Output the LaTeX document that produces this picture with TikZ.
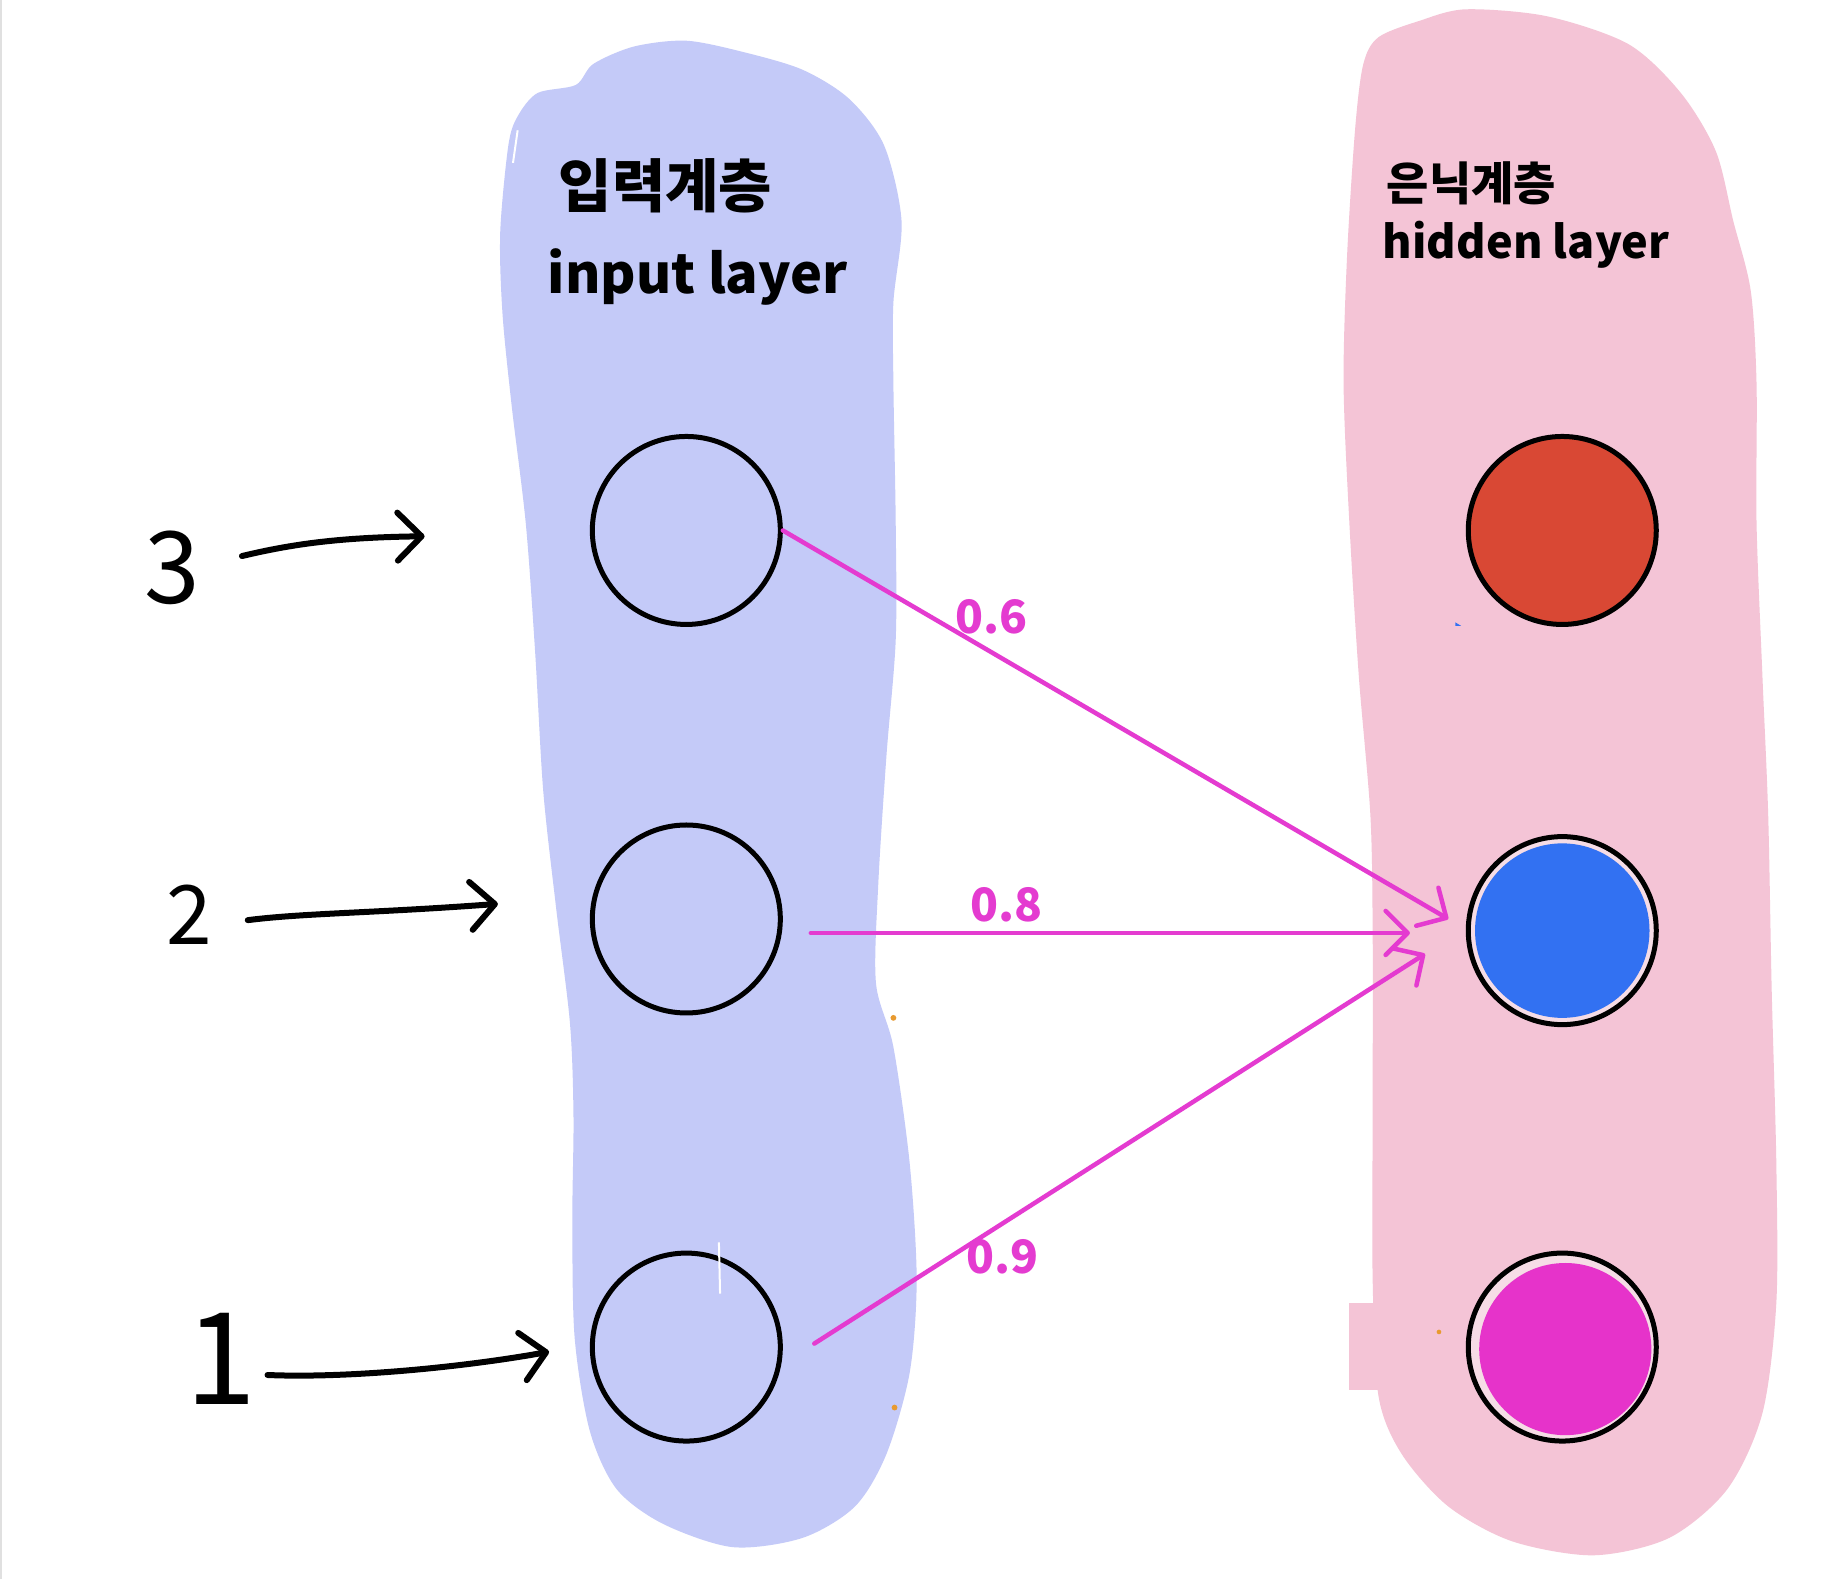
\documentclass[tikz,border=0pt]{standalone}
\usepackage{fontspec}
\setmainfont{Noto Sans CJK KR}
\usetikzlibrary{arrows.meta}
\definecolor{inblob}{HTML}{C4CAF8}
\definecolor{hidblob}{HTML}{F4C4D6}
\definecolor{wmag}{HTML}{E43BD0}
\definecolor{nred}{HTML}{D94834}
\definecolor{nblue}{HTML}{3271F2}
\definecolor{nmag}{HTML}{E633CA}
\definecolor{ringc}{HTML}{F6DCE6}
\definecolor{dotor}{HTML}{E89A30}
\tikzset{
  neuron/.style={circle, draw=black, line width=5pt, minimum size=188pt, inner sep=0pt},
  weightarrow/.style={draw=wmag, line width=4.5pt, line cap=round, -{Straight Barb[length=22pt,width=44pt,line width=4.5pt,round]}},
  inarrow/.style={draw=black, line width=6pt, line cap=round, -{Straight Barb[length=24pt,width=48pt,line width=6pt,round]}},
  wlabel/.style={text=wmag, font=\bfseries\fontsize{46}{48}\selectfont, inner sep=0pt},
  numlabel/.style={text=black, inner sep=0pt},
  titlelabel/.style={text=black, inner sep=0pt}
}
\begin{document}
\begin{tikzpicture}[x=1.16327pt,y=-1.16327pt]
\useasboundingbox (0,0) rectangle (1568,1357);
\fill[white] (0,0) rectangle (1568,1357);
\draw[color=black!12, line width=1.5pt] (1,0) -- (1,1357);

% input layer blob
\fill[inblob] plot[smooth cycle] coordinates {
(437,125) (445,100) (462,80) (495,73) (510,55) (545,40) (590,35) (640,45) (690,60) (730,85) (760,125) (775,190) (768,260) (768,330) (770,450) (770,550) (762,650) (755,760) (753,845) (768,900) (782,1000) (788,1100) (782,1180) (762,1250) (735,1295) (690,1322) (630,1330) (570,1310) (530,1280) (507,1230) (494,1150) (492,1050) (493,960) (490,880) (478,780) (467,680) (460,560) (452,450) (440,350) (432,270) (430,200)};
\draw[white, line width=2pt] (445,112) -- (441,140);
\fill[dotor] (768,875) circle[radius=2.5];
\fill[dotor] (769,1210) circle[radius=2.5];

% hidden layer blob
\fill[hidblob] plot[smooth cycle] coordinates {
(1172,55) (1185,32) (1220,18) (1260,8) (1330,14) (1400,38) (1445,80) (1475,130) (1490,190) (1505,250) (1510,330) (1510,450) (1515,580) (1520,700) (1523,850) (1527,1000) (1527,1120) (1515,1215) (1485,1280) (1435,1322) (1370,1337) (1300,1325) (1245,1295) (1205,1250) (1185,1200) (1180,1100) (1180,950) (1180,800) (1178,700) (1168,580) (1160,450) (1155,330) (1158,220) (1165,110)};
\fill[hidblob] (1160,1120) rectangle (1212,1195);
\fill[dotor] (1237,1145) circle[radius=2];
\fill[nblue] (1251,535) -- (1256,538) -- (1251,538) -- cycle;

% titles
\node[titlelabel, font=\bfseries\fontsize{58}{60}\selectfont] (t1) at (572,160) {입력계층};
\node[titlelabel, font=\bfseries\fontsize{54}{56}\selectfont] (t2) at (600,238) {input layer};
\node[titlelabel, font=\bfseries\fontsize{46}{48}\selectfont] (t3) at (1265,158) {은닉계층};
\node[titlelabel, font=\bfseries\fontsize{45}{47}\selectfont] (t4) at (1312,210) {hidden layer};

% input neurons
\node[neuron] (i3) at (590,456) {};
\node[neuron] (i2) at (590,790) {};
\node[neuron] (i1) at (590,1158) {};
\draw[white, line width=2pt] (618,1068) -- (619,1112);

% hidden neurons
\node[neuron, fill=nred] (h3) at (1343,456) {};
\node[neuron, fill=ringc] (h2) at (1343,800) {};
\fill[nblue] (h2.center) circle[radius=75];
\node[neuron, fill=ringc] (h1) at (1343,1158) {};
\fill[nmag] ([xshift=3pt,yshift=-2pt]h1.center) circle[radius=74];

% input numbers
\node[numlabel, font=\fontsize{100}{100}\selectfont] (n3) at (148,488) {3};
\node[numlabel, font=\fontsize{82}{82}\selectfont] (n2) at (163,786) {2};
\node[numlabel, font=\fontsize{128}{128}\selectfont] (n1) at (190,1168) {1};

% input arrows
\coordinate (a3s) at (208,478);
\coordinate (a3e) at (365,461);
\coordinate (a2s) at (213,791);
\coordinate (a2e) at (428,777);
\coordinate (a1s) at (230,1182);
\coordinate (a1e) at (472,1162);
\draw[inarrow] (a3s) .. controls (250,468) and (290,462) .. (a3e);
\draw[inarrow] (a2s) .. controls (260,785) and (320,785) .. (a2e);
\draw[inarrow] (a1s) .. controls (300,1185) and (400,1175) .. (a1e);

% weighted connections
\coordinate (s2) at (697,802);
\coordinate (s1) at (700,1155);
\coordinate (e3) at (1245,790);
\coordinate (e2) at (1212,802);
\coordinate (e1) at (1225,820);
\draw[weightarrow] (i3.east) -- (e3);
\draw[weightarrow] (s2) -- (e2);
\draw[weightarrow] (s1) -- (e1);

\node[wlabel] (w3) at (852,530) {0.6};
\node[wlabel] (w2) at (865,778) {0.8};
\node[wlabel] (w1) at (862,1080) {0.9};
\end{tikzpicture}
\end{document}
